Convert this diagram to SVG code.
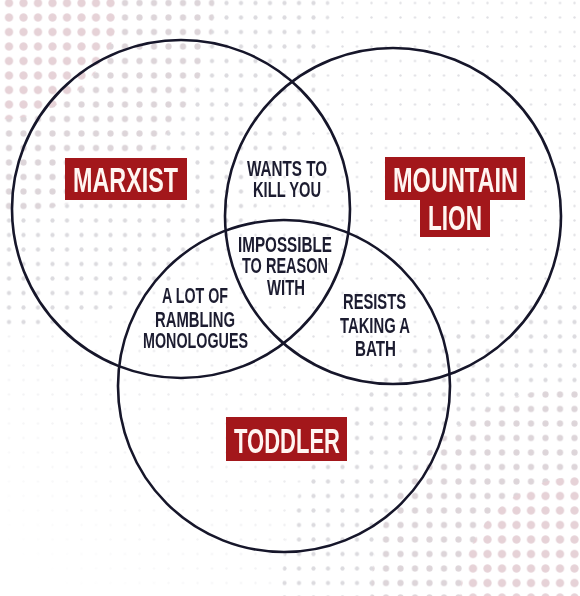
<svg xmlns="http://www.w3.org/2000/svg" width="580" height="596" viewBox="0 0 580 596">
  <style>
    .ring { fill: none; stroke: #16162a; stroke-width: 2.6; }
    .tag { fill: #a3171b; }
    .tag-text { font-family: "Liberation Sans", Arial, sans-serif; font-weight: bold; font-size: 35px; fill: #fff6f2; text-anchor: middle; }
    .region { font-family: "Liberation Sans", Arial, sans-serif; font-weight: bold; font-size: 22px; fill: #1c1c30; text-anchor: middle; }
  </style>
  <defs>
    <!-- halftone dot tiles of several sizes on one shared grid -->
    <pattern id="dotXS" x="1.75" y="-4.25" width="14.5" height="14.5" patternUnits="userSpaceOnUse">
      <circle cx="7.25" cy="7.25" r="1.2" fill="#e0e0e4"/>
    </pattern>
    <pattern id="dotS" x="1.75" y="-4.25" width="14.5" height="14.5" patternUnits="userSpaceOnUse">
      <circle cx="7.25" cy="7.25" r="2.1" fill="#dcdbdf"/>
    </pattern>
    <pattern id="dotM" x="1.75" y="-4.25" width="14.5" height="14.5" patternUnits="userSpaceOnUse">
      <circle cx="7.25" cy="7.25" r="3.1" fill="#ddd5d9"/>
    </pattern>
    <pattern id="dotL" x="1.75" y="-4.25" width="14.5" height="14.5" patternUnits="userSpaceOnUse">
      <circle cx="7.25" cy="7.25" r="4.1" fill="#e6d2d7"/>
    </pattern>

    <!-- corner falloff masks: hard rings around top-left and bottom-right -->
    <radialGradient id="tlS" gradientUnits="userSpaceOnUse" cx="0" cy="0" r="330">
      <stop offset="0" stop-color="#fff"/><stop offset="0.99" stop-color="#fff"/><stop offset="1" stop-color="#000"/>
    </radialGradient>
    <radialGradient id="brS" gradientUnits="userSpaceOnUse" cx="580" cy="596" r="300">
      <stop offset="0" stop-color="#fff"/><stop offset="0.99" stop-color="#fff"/><stop offset="1" stop-color="#000"/>
    </radialGradient>
    <radialGradient id="tlM" gradientUnits="userSpaceOnUse" cx="0" cy="0" r="215">
      <stop offset="0" stop-color="#fff"/><stop offset="0.99" stop-color="#fff"/><stop offset="1" stop-color="#000"/>
    </radialGradient>
    <radialGradient id="brM" gradientUnits="userSpaceOnUse" cx="580" cy="596" r="210">
      <stop offset="0" stop-color="#fff"/><stop offset="0.99" stop-color="#fff"/><stop offset="1" stop-color="#000"/>
    </radialGradient>
    <radialGradient id="tlL" gradientUnits="userSpaceOnUse" cx="0" cy="0" r="120">
      <stop offset="0" stop-color="#fff"/><stop offset="0.99" stop-color="#fff"/><stop offset="1" stop-color="#000"/>
    </radialGradient>
    <radialGradient id="brL" gradientUnits="userSpaceOnUse" cx="580" cy="596" r="120">
      <stop offset="0" stop-color="#fff"/><stop offset="0.99" stop-color="#fff"/><stop offset="1" stop-color="#000"/>
    </radialGradient>
    <!-- fine dots fade out toward the lower left -->
    <linearGradient id="fineFade" gradientUnits="userSpaceOnUse" x1="300" y1="300" x2="60" y2="596">
      <stop offset="0" stop-color="#fff"/><stop offset="1" stop-color="#000"/>
    </linearGradient>

    <mask id="mFine"><rect width="580" height="596" fill="url(#fineFade)"/></mask>
    <mask id="mS">
      <rect width="580" height="596" fill="url(#tlS)"/>
      <rect width="580" height="596" fill="url(#brS)" style="mix-blend-mode: lighten"/>
    </mask>
    <mask id="mM">
      <rect width="580" height="596" fill="url(#tlM)"/>
      <rect width="580" height="596" fill="url(#brM)" style="mix-blend-mode: lighten"/>
    </mask>
    <mask id="mL">
      <rect width="580" height="596" fill="url(#tlL)"/>
      <rect width="580" height="596" fill="url(#brL)" style="mix-blend-mode: lighten"/>
    </mask>
  </defs>

  <!-- paper and halftone backdrop -->
  <rect width="580" height="596" fill="#ffffff"/>
  <g id="halftone">
    <rect width="580" height="596" fill="url(#dotXS)" mask="url(#mFine)"/>
    <rect width="580" height="596" fill="url(#dotS)" mask="url(#mS)"/>
    <rect width="580" height="596" fill="url(#dotM)" mask="url(#mM)"/>
    <rect width="580" height="596" fill="url(#dotL)" mask="url(#mL)"/>
  </g>

  <!-- the three sets -->
  <g id="connectors"/>
  <g id="set-marxist">
    <circle class="ring" cx="181" cy="209" r="169"/>
    <rect class="tag" x="65" y="158" width="122" height="42"/>
    <text class="tag-text" x="125.5" y="192" textLength="105" lengthAdjust="spacingAndGlyphs">MARXIST</text>
  </g>
  <g id="set-mountain-lion">
    <circle class="ring" cx="393" cy="216" r="168"/>
    <path class="tag" d="M385 157 H525 V200 H490 V237 H420 V200 H385 Z"/>
    <text class="tag-text" x="455.5" y="192" textLength="125" lengthAdjust="spacingAndGlyphs">MOUNTAIN</text>
    <text class="tag-text" x="455" y="230" textLength="54" lengthAdjust="spacingAndGlyphs">LION</text>
  </g>
  <g id="set-toddler">
    <circle class="ring" cx="284" cy="386" r="166"/>
    <rect class="tag" x="226" y="417" width="121" height="44"/>
    <text class="tag-text" x="287" y="453" textLength="106" lengthAdjust="spacingAndGlyphs">TODDLER</text>
  </g>

  <!-- overlap regions -->
  <g id="overlap-marxist-lion">
    <text class="region" x="287" y="176" textLength="80" lengthAdjust="spacingAndGlyphs">WANTS TO</text>
    <text class="region" x="287" y="197" textLength="68" lengthAdjust="spacingAndGlyphs">KILL YOU</text>
  </g>
  <g id="overlap-all">
    <text class="region" x="285" y="252" textLength="94" lengthAdjust="spacingAndGlyphs">IMPOSSIBLE</text>
    <text class="region" x="285" y="273" textLength="86" lengthAdjust="spacingAndGlyphs">TO REASON</text>
    <text class="region" x="286" y="295" textLength="38" lengthAdjust="spacingAndGlyphs">WITH</text>
  </g>
  <g id="overlap-marxist-toddler">
    <text class="region" x="195" y="303" textLength="66" lengthAdjust="spacingAndGlyphs">A LOT OF</text>
    <text class="region" x="195" y="327" textLength="80" lengthAdjust="spacingAndGlyphs">RAMBLING</text>
    <text class="region" x="195.5" y="348" textLength="105" lengthAdjust="spacingAndGlyphs">MONOLOGUES</text>
  </g>
  <g id="overlap-lion-toddler">
    <text class="region" x="374.5" y="309" textLength="63" lengthAdjust="spacingAndGlyphs">RESISTS</text>
    <text class="region" x="375" y="333" textLength="70" lengthAdjust="spacingAndGlyphs">TAKING A</text>
    <text class="region" x="375.5" y="356" textLength="41" lengthAdjust="spacingAndGlyphs">BATH</text>
  </g>
</svg>
